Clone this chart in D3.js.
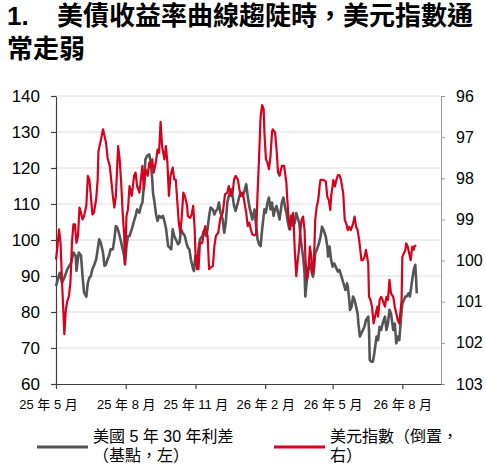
<!DOCTYPE html>
<html>
<head>
<meta charset="utf-8">
<script src="https://d3js.org/d3.v7.min.js"></script>
<style>
    body { margin: 0; background: #fff; }
    text { font-family: "Liberation Sans", Arial, "Noto Sans CJK TC", sans-serif; }
</style>
</head>
<body>
<svg id="chart" width="486" height="466"></svg>
<script>
// US 5s30s spread (bp, left axis)
var spreadDates = [
 "2025-05-01","2025-05-04","2025-05-06","2025-05-09","2025-05-12","2025-05-16","2025-05-21","2025-05-24","2025-05-27","2025-05-28",
 "2025-05-31","2025-06-03","2025-06-05","2025-06-07","2025-06-10","2025-06-12","2025-06-14","2025-06-16","2025-06-18","2025-06-20",
 "2025-06-23","2025-06-25","2025-06-27","2025-06-29","2025-07-02","2025-07-04","2025-07-06","2025-07-08","2025-07-10","2025-07-12",
 "2025-07-15","2025-07-17","2025-07-19","2025-07-21","2025-07-23","2025-07-26","2025-07-28","2025-07-30","2025-07-31","2025-08-02",
 "2025-08-04","2025-08-06","2025-08-09","2025-08-12","2025-08-14","2025-08-16","2025-08-19","2025-08-21","2025-08-23","2025-08-25",
 "2025-08-27","2025-08-29","2025-09-01","2025-09-03","2025-09-05","2025-09-06","2025-09-08","2025-09-10","2025-09-12","2025-09-14",
 "2025-09-17","2025-09-19","2025-09-21","2025-09-23","2025-09-26","2025-09-28","2025-09-30","2025-10-02","2025-10-04","2025-10-06",
 "2025-10-09","2025-10-11","2025-10-13","2025-10-15","2025-10-18","2025-10-20","2025-10-22","2025-10-24","2025-10-26","2025-10-29",
 "2025-10-30","2025-11-01","2025-11-03","2025-11-05","2025-11-07","2025-11-10","2025-11-12","2025-11-15","2025-11-17","2025-11-19",
 "2025-11-21","2025-11-24","2025-11-26","2025-11-28","2025-11-30","2025-12-02","2025-12-04","2025-12-07","2025-12-09","2025-12-11",
 "2025-12-13","2025-12-15","2025-12-18","2025-12-20","2025-12-22","2025-12-24","2025-12-27","2025-12-29","2025-12-31","2026-01-02",
 "2026-01-04","2026-01-07","2026-01-09","2026-01-11","2026-01-13","2026-01-15","2026-01-18","2026-01-20","2026-01-22","2026-01-24",
 "2026-01-26","2026-01-28","2026-01-30","2026-01-31","2026-02-02","2026-02-04","2026-02-06","2026-02-08","2026-02-10","2026-02-12",
 "2026-02-14","2026-02-16","2026-02-18","2026-02-20","2026-02-23","2026-02-25","2026-02-27","2026-03-01","2026-03-03","2026-03-05",
 "2026-03-07","2026-03-10","2026-03-12","2026-03-14","2026-03-18","2026-03-20","2026-03-23","2026-03-25","2026-03-26","2026-03-28",
 "2026-03-30","2026-04-01","2026-04-03","2026-04-05","2026-04-06","2026-04-08","2026-04-10","2026-04-13","2026-04-15","2026-04-17",
 "2026-04-19","2026-04-22","2026-04-24","2026-04-25","2026-04-27","2026-04-29","2026-05-01","2026-05-03","2026-05-05","2026-05-08",
 "2026-05-10","2026-05-12","2026-05-14","2026-05-16","2026-05-18","2026-05-20","2026-05-21","2026-05-23","2026-05-24","2026-05-26",
 "2026-05-28","2026-05-30","2026-06-01","2026-06-03","2026-06-04","2026-06-06","2026-06-08","2026-06-10","2026-06-12","2026-06-14",
 "2026-06-17","2026-06-18","2026-06-19","2026-06-21","2026-06-23","2026-06-25","2026-06-28","2026-06-30","2026-07-02","2026-07-04",
 "2026-07-06","2026-07-09","2026-07-11","2026-07-13","2026-07-15","2026-07-17","2026-07-20","2026-07-22","2026-07-24","2026-07-26",
 "2026-07-28","2026-07-30","2026-08-01","2026-08-03","2026-08-05","2026-08-07","2026-08-09","2026-08-11","2026-08-14","2026-08-16",
 "2026-08-18","2026-08-19","2026-08-20"];
var spreadValues = [
 87.2,89.5,90.9,88.1,89.5,91.9,93.7,96.5,95.6,91.4,
 96.5,95.7,90.0,85.4,84.3,88.1,89.5,90.0,91.9,92.8,
 94.6,97.4,100.2,99.3,96.5,92.8,93.2,94.6,95.6,97.4,
 97.4,100.2,103.9,103.4,102.0,99.3,97.4,95.6,93.2,98.3,
 101.1,101.1,103.0,105.3,106.7,108.5,107.6,109.4,110.4,115.0,
 122.4,123.3,123.8,121.5,116.9,113.1,110.4,107.1,105.3,106.7,
 106.2,106.7,105.3,103.4,98.3,97.9,97.4,103.0,101.1,100.2,
 98.8,99.3,103.0,102.0,101.1,99.3,97.9,97.4,94.6,91.9,
 91.4,95.6,93.2,97.4,100.2,101.1,102.5,101.1,103.0,106.7,
 109.0,108.5,107.1,108.1,108.5,110.4,107.6,105.7,102.0,104.8,
 110.4,112.2,114.1,112.2,109.4,108.1,110.4,112.2,113.1,112.2,
 113.1,115.5,112.2,109.4,107.6,105.7,108.5,103.9,100.2,98.8,
 98.3,103.0,106.7,108.5,107.6,110.4,111.8,108.5,110.4,106.7,
 108.5,109.4,107.6,105.7,110.4,111.8,109.4,107.6,104.8,103.0,
 106.7,103.9,104.8,107.5,104.7,100.0,95.4,90.7,84.3,88.9,
 91.7,93.5,91.7,89.8,90.7,96.3,97.2,99.1,100.9,103.7,
 102.8,100.9,98.2,95.4,98.2,94.4,92.6,93.5,92.6,91.2,
 91.7,90.3,88.9,87.5,86.1,88.0,87.0,83.3,80.6,81.5,
 84.3,83.3,81.5,79.6,76.9,73.2,74.1,75.0,75.9,77.8,
 78.7,75.0,66.7,66.2,66.2,68.5,73.2,72.2,75.9,75.0,
 76.8,78.7,75.0,76.8,80.6,79.6,75.0,76.8,71.3,73.2,
 72.2,77.8,82.4,83.3,84.3,84.3,85.2,84.3,88.9,91.7,
 93.1,89.8,85.2];

// US dollar index (inverted, right axis)
var dxyDates = [
 "2025-05-01","2025-05-03","2025-05-05","2025-05-07","2025-05-09","2025-05-11","2025-05-12","2025-05-14","2025-05-16","2025-05-18",
 "2025-05-20","2025-05-21","2025-05-22","2025-05-24","2025-05-26","2025-05-28","2025-05-30","2025-06-01","2025-06-03","2025-06-05",
 "2025-06-07","2025-06-10","2025-06-12","2025-06-14","2025-06-16","2025-06-18","2025-06-20","2025-06-23","2025-06-25","2025-06-26",
 "2025-06-29","2025-07-02","2025-07-04","2025-07-06","2025-07-08","2025-07-11","2025-07-13","2025-07-15","2025-07-17","2025-07-19",
 "2025-07-21","2025-07-22","2025-07-24","2025-07-26","2025-07-28","2025-07-30","2025-07-31","2025-08-02","2025-08-04","2025-08-06",
 "2025-08-09","2025-08-12","2025-08-14","2025-08-16","2025-08-19","2025-08-21","2025-08-23","2025-08-25","2025-08-27","2025-08-30",
 "2025-09-01","2025-09-03","2025-09-05","2025-09-07","2025-09-10","2025-09-12","2025-09-14","2025-09-16","2025-09-18","2025-09-21",
 "2025-09-23","2025-09-25","2025-09-27","2025-09-29","2025-10-02","2025-10-04","2025-10-06","2025-10-10","2025-10-12","2025-10-14",
 "2025-10-16","2025-10-18","2025-10-21","2025-10-22","2025-10-25","2025-10-27","2025-10-29","2025-10-31","2025-11-01","2025-11-03",
 "2025-11-04","2025-11-05","2025-11-07","2025-11-10","2025-11-12","2025-11-14","2025-11-17","2025-11-19","2025-11-21","2025-11-24",
 "2025-11-26","2025-11-28","2025-12-01","2025-12-04","2025-12-07","2025-12-10","2025-12-13","2025-12-15","2025-12-18","2025-12-20",
 "2025-12-22","2025-12-24","2025-12-27","2025-12-29","2025-12-31","2026-01-02","2026-01-04","2026-01-07","2026-01-09","2026-01-11",
 "2026-01-13","2026-01-15","2026-01-18","2026-01-20","2026-01-22","2026-01-24","2026-01-26","2026-01-28","2026-01-30","2026-01-31",
 "2026-02-02","2026-02-04","2026-02-06","2026-02-08","2026-02-10","2026-02-11","2026-02-14","2026-02-16","2026-02-18","2026-02-20",
 "2026-02-23","2026-02-26","2026-03-01","2026-03-02","2026-03-04","2026-03-06","2026-03-08","2026-03-10","2026-03-12","2026-03-14",
 "2026-03-16","2026-03-18","2026-03-19","2026-03-21","2026-03-23","2026-03-25","2026-03-26","2026-03-28","2026-03-29","2026-03-31",
 "2026-04-01","2026-04-03","2026-04-04","2026-04-06","2026-04-07","2026-04-08","2026-04-10","2026-04-12","2026-04-14","2026-04-15",
 "2026-04-19","2026-04-22","2026-04-24","2026-04-26","2026-04-28","2026-04-29","2026-05-02","2026-05-04","2026-05-06","2026-05-08",
 "2026-05-10","2026-05-12","2026-05-15","2026-05-17","2026-05-19","2026-05-21","2026-05-23","2026-05-25","2026-05-28","2026-05-30",
 "2026-06-01","2026-06-03","2026-06-05","2026-06-08","2026-06-10","2026-06-12","2026-06-14","2026-06-17","2026-06-18","2026-06-20",
 "2026-06-22","2026-06-24","2026-06-27","2026-06-29","2026-06-30","2026-07-02","2026-07-04","2026-07-06","2026-07-09","2026-07-11",
 "2026-07-13","2026-07-15","2026-07-17","2026-07-20","2026-07-22","2026-07-24","2026-07-26","2026-07-28","2026-07-31","2026-08-01",
 "2026-08-03","2026-08-05","2026-08-06","2026-08-08","2026-08-10","2026-08-12","2026-08-14","2026-08-16","2026-08-17","2026-08-19"];
var dxyValues = [
 99.97,99.65,99.24,99.57,100.54,101.35,101.79,101.19,100.98,100.86,
 100.54,100.13,99.57,99.12,99.12,99.57,99.40,98.71,98.84,99.00,
 98.92,98.67,97.94,98.03,98.43,98.88,98.84,98.51,98.03,97.34,
 97.09,96.81,96.97,97.13,97.50,97.70,98.07,98.43,98.71,98.43,
 97.62,97.22,97.54,98.11,98.84,99.40,100.09,98.92,98.75,98.19,
 98.43,97.94,97.86,98.19,98.35,98.03,97.70,98.27,97.78,97.94,
 97.62,97.74,97.54,97.86,97.58,97.30,97.38,96.63,97.22,97.54,
 97.22,97.62,98.43,97.94,97.74,98.03,98.03,99.08,99.32,98.92,
 98.35,98.43,98.67,98.92,98.96,98.88,98.67,99.24,99.81,100.21,
 99.89,100.21,99.57,99.57,99.32,99.16,99.40,100.21,100.17,100.13,
 99.65,99.40,99.32,98.96,98.84,98.39,98.35,98.19,98.43,98.35,
 98.03,97.94,98.03,98.27,98.43,98.35,98.51,98.84,99.16,99.08,
 99.24,99.36,99.39,99.36,98.35,97.46,96.49,96.22,96.32,96.89,
 97.54,97.62,97.78,97.46,96.89,96.81,96.88,97.30,97.86,97.94,
 97.70,97.70,98.11,98.47,99.00,99.24,98.92,98.84,99.73,100.38,
 99.99,99.66,99.34,99.01,98.93,99.26,99.91,100.47,100.39,99.99,
 99.66,99.91,100.31,100.19,99.66,99.01,98.69,98.53,98.16,98.04,
 98.04,98.08,98.45,98.53,98.77,98.45,98.04,98.20,98.04,97.92,
 97.92,98.04,98.37,99.01,99.10,99.26,99.18,99.26,99.10,98.93,
 99.18,99.26,99.50,99.99,99.99,99.91,99.74,100.07,100.88,100.96,
 101.12,101.53,101.28,101.12,101.36,100.96,100.88,100.96,101.12,100.88,
 100.96,100.47,100.80,100.88,101.12,101.28,101.45,101.53,100.96,99.91,
 99.82,99.74,99.58,99.66,99.82,99.99,99.66,99.74,99.66,99.62];

var leftTicks = [60, 70, 80, 90, 100, 110, 120, 130, 140];
var rightTicks = [96, 97, 98, 99, 100, 101, 102, 103];
var xTickDates = ["2025-05-01", "2025-08-01", "2025-11-01", "2026-02-01", "2026-05-01", "2026-08-01"];
var xTickLabels = ["25 年 5 月", "25 年 8 月", "25 年 11 月", "26 年 2 月", "26 年 5 月", "26 年 8 月"];
var xDomain = ["2025-05-01", "2026-09-21"];

var titleNum = "1.";
var titleLines = ["美債收益率曲線趨陡時，美元指數通", "常走弱"];
var legendSpread = ["美國 5 年 30 年利差", "（基點，左）"];
var legendDxy = ["美元指數（倒置，", "右）"];

var grayColor = "#555555", redColor = "#d8001c";

var svg = d3.select("#chart");
var parse = d3.timeParse("%Y-%m-%d");

var x = d3.scaleTime(xDomain.map(parse), [56, 441]);
var yL = d3.scaleLinear([60, 140], [384, 96]);
var yR = d3.scaleLinear([96, 103], [96, 384]);

var spread = spreadDates.map((d, i) => ({date: parse(d), value: spreadValues[i]}));
var dxy = dxyDates.map((d, i) => ({date: parse(d), value: dxyValues[i]}));

// title
var title = svg.append("g").style("font-weight", "bold").style("fill", "#000");
title.append("text").attr("x", 7).attr("y", 25).style("font-size", "26px").text(titleNum);
title.append("text").attr("x", 57).attr("y", 25)
    .style("font-family", "'Noto Sans CJK TC', sans-serif").style("font-size", "26px").text(titleLines[0]);
title.append("text").attr("x", 7).attr("y", 58)
    .style("font-family", "'Noto Sans CJK TC', sans-serif").style("font-size", "26px").text(titleLines[1]);

// grid
svg.append("g").selectAll("line")
    .data(leftTicks.filter(d => d > 60))
    .join("line")
    .attr("x1", 56).attr("x2", 441)
    .attr("y1", d => yL(d)).attr("y2", d => yL(d))
    .attr("stroke", "#dcdcdc").attr("stroke-width", 1);

// left axis
var gl = svg.append("g").attr("transform", "translate(56,0)")
    .call(d3.axisLeft(yL).tickValues(leftTicks).tickSize(5).tickSizeOuter(0).tickPadding(11));
gl.selectAll("text").style("font-size", "17px").style("fill", "#000");

// right axis
var gr = svg.append("g").attr("transform", "translate(441,0)")
    .call(d3.axisRight(yR).tickValues(rightTicks).tickFormat(d3.format("d"))
        .tickSize(4).tickSizeOuter(0).tickPadding(11));
gr.selectAll("text").style("font-size", "16px").style("fill", "#000");
gr.selectAll("path, line").attr("stroke", "#9a9a9a");

// bottom axis
var gb = svg.append("g").attr("transform", "translate(0,384)")
    .call(d3.axisBottom(x).tickValues(xTickDates.map(parse))
        .tickFormat((d, i) => xTickLabels[i]).tickSize(5).tickSizeOuter(0));
gb.selectAll("text").attr("y", 25).attr("dy", null)
    .style("font-size", "13px").style("fill", "#000");
gb.select(".tick text").attr("dx", -8);

[gl, gb].forEach(g => g.selectAll("path, line").attr("stroke", "#404040").attr("stroke-width", 1.2));

// series
svg.append("path").datum(spread)
    .attr("fill", "none").attr("stroke", grayColor).attr("stroke-width", 2.6)
    .attr("stroke-linejoin", "round")
    .attr("d", d3.line().x(d => x(d.date)).y(d => yL(d.value)));

svg.append("path").datum(dxy)
    .attr("fill", "none").attr("stroke", redColor).attr("stroke-width", 2.2)
    .attr("stroke-linejoin", "round")
    .attr("d", d3.line().x(d => x(d.date)).y(d => yR(d.value)));

// legend
var legend = [
    {x: 37, color: grayColor, lines: legendSpread},
    {x: 274, color: redColor, lines: legendDxy}
];
var lg = svg.append("g").selectAll("g").data(legend).join("g");
lg.append("line")
    .attr("x1", d => d.x).attr("x2", d => d.x + 51)
    .attr("y1", 447).attr("y2", 447)
    .attr("stroke", d => d.color).attr("stroke-width", 3);
lg.each(function(d) {
    d3.select(this).selectAll("text").data(d.lines).join("text")
        .attr("x", d.x + 56)
        .attr("y", (t, i) => 442 + i * 19)
        .style("font-size", "16px").style("fill", "#000")
        .text(t => t);
});
</script>
</body>
</html>
